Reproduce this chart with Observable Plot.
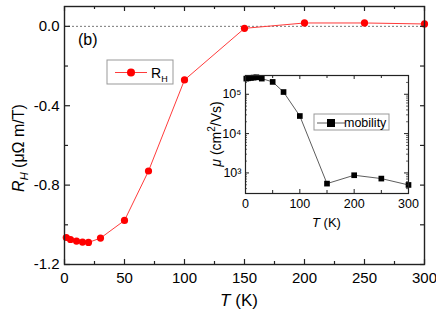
<!DOCTYPE html>
<html><head><meta charset="utf-8">
<script src="https://cdn.jsdelivr.net/npm/d3@7"></script>
<script src="https://cdn.jsdelivr.net/npm/@observablehq/plot@0.6"></script>
<style>
body{margin:0;background:#fff;}
#wrap{position:relative;width:436px;height:315px;font-family:"Liberation Sans",Arial,sans-serif;}
#wrap svg{position:absolute;overflow:visible;}
</style></head><body><div id="wrap"></div>
<script>
// Main panel: Hall coefficient vs temperature
const temps = [1.5, 5, 10, 15, 20, 30, 50, 70, 100, 150, 200, 250, 300];
const hall = [-1.064, -1.074, -1.082, -1.087, -1.089, -1.067, -0.978, -0.729, -0.27, -0.01, 0.017, 0.017, 0.012];
// Inset: mobility vs temperature
const muTemps = [1.5, 5, 10, 15, 20, 30, 50, 70, 100, 150, 200, 250, 300];
const mobility = [2.5e5, 2.55e5, 2.6e5, 2.65e5, 2.7e5, 2.5e5, 2.06e5, 1.14e5, 2.8e4, 535, 874, 718, 495];
// Ticks
const xMajor = [0, 50, 100, 150, 200, 250, 300];
const xMinor = [25, 75, 125, 175, 225, 275];
const yLabeled = [0, -0.4, -0.8, -1.2];
const yMajor = [0, -0.4, -0.8, -1.2];
const yMinor = [-0.2, -0.6, -1.0];
const inXMajor = [0, 100, 200, 300];
const inXMinor = [50, 150, 250];
const inYMajor = [1e3, 1e4, 1e5];
const inYMinor = [400,500,600,700,800,900,2e3,3e3,4e3,5e3,6e3,7e3,8e3,9e3,2e4,3e4,4e4,5e4,6e4,7e4,8e4,9e4,2e5,3e5];

const rows = temps.map((t, i) => ({T: t, RH: hall[i]}));
const muRows = muTemps.map((t, i) => ({T: t, mu: mobility[i]}));

const font = '"Liberation Sans", Arial, sans-serif';
const ink = "#222";

const W = 436, H = 315, mL = 64, mR = 12, mT = 6, mB = 51;
const fw = W - mL - mR, fh = H - mT - mB;

const main = Plot.plot({
  width: W, height: H, marginLeft: mL, marginRight: mR, marginTop: mT, marginBottom: mB,
  style: {fontFamily: font, background: "transparent", color: "#000", fontSize: "15px"},
  x: {domain: [0, 300]},
  y: {domain: [-1.2, 0.1]},
  marks: [
    Plot.ruleY([0], {stroke: "#555", strokeDasharray: "2,2", strokeWidth: 0.8}),
    Plot.line(rows, {x: "T", y: "RH", stroke: "#ff3b3b", strokeWidth: 1}),
    Plot.dot(rows, {x: "T", y: "RH", fill: "#ff0000", r: 3.6}),
    Plot.ruleX(xMajor, {x: d => d, insetTop: fh - 5, stroke: ink, strokeWidth: 1.2}),
    Plot.ruleX(xMinor, {x: d => d, insetTop: fh - 3, stroke: ink, strokeWidth: 1.2}),
    Plot.ruleX(xMajor, {x: d => d, insetBottom: fh - 5, stroke: ink, strokeWidth: 1.2}),
    Plot.ruleX(xMinor, {x: d => d, insetBottom: fh - 3, stroke: ink, strokeWidth: 1.2}),
    Plot.ruleY(yMajor, {y: d => d, insetRight: fw - 6, stroke: ink, strokeWidth: 1.2}),
    Plot.ruleY(yMinor, {y: d => d, insetRight: fw - 4, stroke: ink, strokeWidth: 1.2}),
    Plot.ruleY(yMajor, {y: d => d, insetLeft: fw - 4, stroke: ink, strokeWidth: 1.2}),
    Plot.ruleY(yMinor, {y: d => d, insetLeft: fw - 4, stroke: ink, strokeWidth: 1.2}),
    Plot.frame({stroke: ink, strokeWidth: 1.4}),
    Plot.axisX({ticks: xMajor, tickSize: 0, tickPadding: 8, tickFormat: d => String(d), fontSize: 15, label: null}),
    Plot.axisY({ticks: yLabeled, tickSize: 0, tickPadding: 5, tickFormat: d => d.toFixed(1), fontSize: 15, label: null})
  ]
});
main.style.left = "0px"; main.style.top = "0px";
document.getElementById("wrap").appendChild(main);

const ms = d3.select(main);
// y label
const yl = ms.append("text").attr("transform", "translate(24,148) rotate(-90)")
  .attr("text-anchor", "middle").attr("font-size", 16).attr("fill", "#000");
yl.append("tspan").attr("font-style", "italic").text("R");
yl.append("tspan").attr("font-style", "italic").attr("font-size", 11).attr("dy", 4).text("H");
yl.append("tspan").attr("dy", -4).text(" (μΩ m/T)");
// x label
const xl = ms.append("text").attr("x", 239).attr("y", 306).attr("text-anchor", "middle")
  .attr("font-size", 17).attr("fill", "#000");
xl.append("tspan").attr("font-style", "italic").text("T");
xl.append("tspan").text(" (K)");
// panel tag
ms.append("text").attr("x", 78).attr("y", 45).attr("text-anchor", "start")
  .attr("font-size", 16).attr("fill", "#000").text("(b)");
// legend
const lg = ms.append("g");
lg.append("rect").attr("x", 107).attr("y", 60).attr("width", 66).attr("height", 24)
  .attr("fill", "#fff").attr("stroke", "#999").attr("stroke-width", 1);
lg.append("line").attr("x1", 115).attr("x2", 147).attr("y1", 72.5).attr("y2", 72.5)
  .attr("stroke", "#ff3b3b").attr("stroke-width", 1);
lg.append("circle").attr("cx", 131).attr("cy", 72.5).attr("r", 4).attr("fill", "#ff0000");
const lt = lg.append("text").attr("x", 151).attr("y", 78).attr("text-anchor", "start")
  .attr("font-size", 14).attr("fill", "#000");
lt.append("tspan").text("R");
lt.append("tspan").attr("font-size", 9).attr("dy", 4).text("H");

// Inset
const iW = 220, iH = 175, iL = 45, iR = 12, iT = 7, iB = 50;
const ifw = iW - iL - iR, ifh = iH - iT - iB;
const sup = {"3": "³", "4": "⁴", "5": "⁵"};
const inset = Plot.plot({
  width: iW, height: iH, marginLeft: iL, marginRight: iR, marginTop: iT, marginBottom: iB,
  style: {fontFamily: font, background: "transparent", color: "#000", fontSize: "12.5px"},
  x: {domain: [0, 300]},
  y: {type: "log", domain: [300, 3e5]},
  marks: [
    Plot.line(muRows, {x: "T", y: "mu", stroke: "#333", strokeWidth: 0.8}),
    Plot.dot(muRows, {x: "T", y: "mu", fill: "#000", symbol: "square", r: 3.2}),
    Plot.ruleX(inXMajor, {x: d => d, insetTop: ifh - 4, stroke: ink}),
    Plot.ruleX(inXMinor, {x: d => d, insetTop: ifh - 3, stroke: ink}),
    Plot.ruleX(inXMajor, {x: d => d, insetBottom: ifh - 4, stroke: ink}),
    Plot.ruleX(inXMinor, {x: d => d, insetBottom: ifh - 3, stroke: ink}),
    Plot.ruleY(inYMajor, {y: d => d, insetRight: ifw - 4, stroke: ink}),
    Plot.ruleY(inYMinor, {y: d => d, insetRight: ifw - 2, stroke: ink, strokeWidth: 0.7}),
    Plot.ruleY(inYMajor, {y: d => d, insetLeft: ifw - 4, stroke: ink}),
    Plot.ruleY(inYMinor, {y: d => d, insetLeft: ifw - 2, stroke: ink, strokeWidth: 0.7}),
    Plot.frame({stroke: ink, strokeWidth: 1.2}),
    Plot.axisX({ticks: inXMajor, tickSize: 0, tickPadding: 6, tickFormat: d => String(d), fontSize: 12.5, label: null}),
    Plot.axisY({ticks: inYMajor, tickSize: 0, tickPadding: 4, tickFormat: d => "10" + sup[String(Math.round(Math.log10(d)))], fontSize: 12.5, label: null})
  ]
});
inset.style.left = "200px"; inset.style.top = "68px";
document.getElementById("wrap").appendChild(inset);
const is = d3.select(inset);
const il = is.append("text").attr("transform", "translate(21,66) rotate(-90)")
  .attr("text-anchor", "middle").attr("font-size", 14).attr("fill", "#000");
il.append("tspan").attr("font-style", "italic").text("μ");
il.append("tspan").text(" (cm");
il.append("tspan").attr("font-size", 10).attr("dy", -6).text("2");
il.append("tspan").attr("dy", 6).text("/Vs)");
const ixl = is.append("text").attr("x", 126.5).attr("y", 159).attr("text-anchor", "middle")
  .attr("font-size", 13).attr("fill", "#000");
ixl.append("tspan").attr("font-style", "italic").text("T");
ixl.append("tspan").text(" (K)");
const ig = is.append("g");
ig.append("rect").attr("x", 114).attr("y", 46).attr("width", 75).attr("height", 16)
  .attr("fill", "#fff").attr("stroke", "#999");
ig.append("line").attr("x1", 117).attr("x2", 145).attr("y1", 55).attr("y2", 55)
  .attr("stroke", "#333").attr("stroke-width", 0.8);
ig.append("rect").attr("x", 127).attr("y", 51).attr("width", 8).attr("height", 8).attr("fill", "#000");
ig.append("text").attr("x", 144).attr("y", 58.5).attr("text-anchor", "start")
  .attr("font-size", 12.5).attr("fill", "#000").text("mobility");
</script></body></html>
